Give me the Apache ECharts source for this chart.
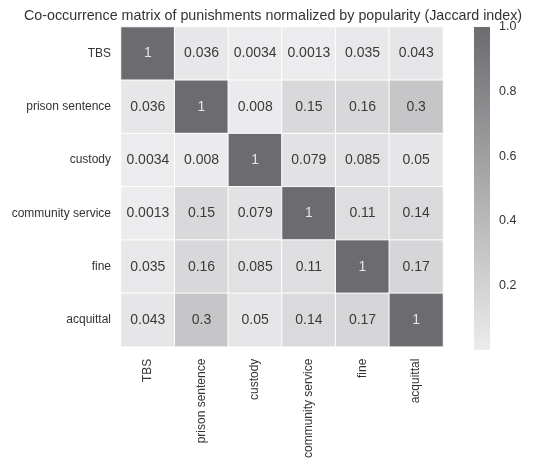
<!DOCTYPE html>
<html>
<head>
<meta charset="utf-8">
<script src="https://cdn.jsdelivr.net/npm/echarts@6/dist/echarts.min.js"></script>
<style>
  html, body { margin: 0; padding: 0; background: #fff; }
  #chart { width: 546px; height: 461px; }
</style>
</head>
<body>
<div id="chart"></div>
<script>
const punishments = ['TBS', 'prison sentence', 'custody', 'community service', 'fine', 'acquittal'];
const jaccard = [
  [1, 0.036, 0.0034, 0.0013, 0.035, 0.043],
  [0.036, 1, 0.008, 0.15, 0.16, 0.3],
  [0.0034, 0.008, 1, 0.079, 0.085, 0.05],
  [0.0013, 0.15, 0.079, 1, 0.11, 0.14],
  [0.035, 0.16, 0.085, 0.11, 1, 0.17],
  [0.043, 0.3, 0.05, 0.14, 0.17, 1]
];
const colorbarTicks = [0.2, 0.4, 0.6, 0.8, 1.0];
const lowColor = '#ececee';
const highColor = '#6c6c70';

const cells = [];
jaccard.forEach((row, r) => {
  row.forEach((v, c) => {
    cells.push({
      value: [c, r, v],
      label: { color: v > 0.6 ? '#e6e6e6' : '#3a3a3a' }
    });
  });
});

const chart = echarts.init(document.getElementById('chart'));
const option = {
  animation: false,
  textStyle: { fontFamily: 'Liberation Sans, Arial, sans-serif' },
  title: {
    text: 'Co-occurrence matrix of punishments normalized by popularity (Jaccard index)',
    left: 'center',
    top: 4,
    textStyle: { fontSize: 14.3, fontWeight: 'normal', color: '#333' }
  },
  grid: [
    { left: 121, top: 27, width: 322, height: 323 },
    { left: 474, top: 27, width: 16, height: 323 }
  ],
  xAxis: [
    {
      type: 'category',
      data: punishments,
      gridIndex: 0,
      axisLine: { show: false },
      axisTick: { show: false },
      axisLabel: { rotate: 90, fontSize: 12, color: '#333', margin: 12 },
      splitLine: { show: false }
    },
    { type: 'category', data: [''], gridIndex: 1, show: false }
  ],
  yAxis: [
    {
      type: 'category',
      data: punishments,
      inverse: true,
      gridIndex: 0,
      axisLine: { show: false },
      axisTick: { show: false },
      axisLabel: { fontSize: 12, color: '#333', margin: 10 },
      splitLine: { show: false }
    },
    {
      type: 'value',
      gridIndex: 1,
      position: 'right',
      min: 0,
      max: 1,
      interval: 0.2,
      axisLine: { show: false },
      axisTick: { show: false },
      splitLine: { show: false },
      axisLabel: {
        fontSize: 12.5,
        color: '#333',
        margin: 9,
        formatter: v => colorbarTicks.some(t => Math.abs(t - v) < 1e-9) ? v.toFixed(1) : ''
      }
    }
  ],
  visualMap: {
    type: 'continuous',
    show: false,
    min: 0,
    max: 1,
    seriesIndex: 0,
    inRange: { color: [lowColor, highColor] }
  },
  series: [
    {
      type: 'heatmap',
      xAxisIndex: 0,
      yAxisIndex: 0,
      data: cells,
      itemStyle: { borderColor: '#ffffff', borderWidth: 1 },
      label: { show: true, fontSize: 14, formatter: p => String(p.value[2]) }
    },
    {
      // colorbar
      type: 'bar',
      xAxisIndex: 1,
      yAxisIndex: 1,
      data: [1],
      barWidth: 16,
      silent: true,
      itemStyle: {
        color: new echarts.graphic.LinearGradient(0, 0, 0, 1, [
          { offset: 0, color: highColor },
          { offset: 1, color: lowColor }
        ])
      }
    }
  ]
};
chart.setOption(option);
</script>
</body>
</html>
